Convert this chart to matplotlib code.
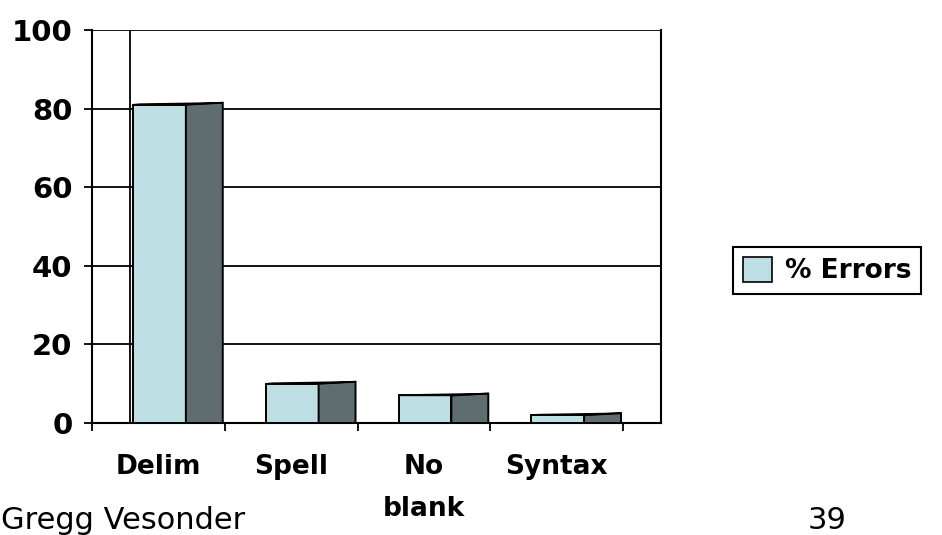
import matplotlib
matplotlib.use("Agg")
import matplotlib.pyplot as plt
from matplotlib.patches import Polygon, Patch

categories = ["Delim", "Spell", "No\nblank", "Syntax"]
errors = [81, 10, 7, 2]
yticks = [0, 20, 40, 60, 80, 100]
legend_label = "% Errors"
footer_left = "Gregg Vesonder"
footer_right = "39"

front_color = "#bddee3"
side_color = "#5f6d71"

W, H = 942, 535
fig = plt.figure(figsize=(W / 100, H / 100), dpi=100)
# plot area in pixels: left 92, right 661, top 30, bottom 423
ax = fig.add_axes([92 / W, 1 - 423 / H, (661 - 92) / W, (423 - 30) / H])

depth = 0.286          # horizontal offset of the back wall, in category units
ax.set_xlim(0, 4 + depth)
ax.set_ylim(0, 100)

# gridlines + back wall edge
for y in yticks[1:]:
    ax.axhline(y, color="black", lw=1.3, zorder=1)
ax.plot([depth, depth], [0, 100], color="black", lw=1.3, zorder=1)

rise = 0.5
for i, v in enumerate(errors):
    x0, x1, x2 = i + 0.31, i + 0.707, i + 0.985
    ax.bar(x0, v, width=x1 - x0, align="edge", color=front_color,
           edgecolor="black", lw=1.4, zorder=3)
    side = Polygon([(x1, 0), (x2, 0), (x2, v + rise), (x1, v)], closed=True,
                   facecolor=side_color, edgecolor="black", lw=1.4, zorder=3)
    ax.add_patch(side)
    top = Polygon([(x0, v), (x1, v), (x2, v + rise), (x0 + 0.05, v + rise * 0.3)],
                  closed=True, facecolor="black", edgecolor="black", lw=1.0, zorder=4)
    ax.add_patch(top)

for s in ["left", "bottom", "right"]:
    ax.spines[s].set_linewidth(1.5)
ax.spines["top"].set_visible(False)

ax.set_yticks(yticks)
ax.set_yticklabels([str(t) for t in yticks], fontsize=21, fontweight="bold")
ax.tick_params(axis="y", length=6, width=1.3, pad=8)

ax.set_xticks(range(5))
ax.set_xticklabels([])
ax.tick_params(axis="x", which="major", length=6, width=1.3, direction="out")
ax.set_xticks([i + 0.5 for i in range(len(categories))], minor=True)
ax.set_xticklabels(categories, minor=True, fontsize=19, fontweight="bold",
                   linespacing=1.8, va="top")
ax.tick_params(axis="x", which="minor", length=0, pad=22)

handle = Patch(facecolor=front_color, edgecolor="black", lw=1.2)
leg = fig.legend([handle], [legend_label], loc="center",
                 bbox_to_anchor=(827 / W, 1 - 270.5 / H),
                 prop={"size": 19, "weight": "bold"}, fancybox=False,
                 edgecolor="black", framealpha=1, handlelength=1.1,
                 handleheight=1.1, handletextpad=0.5, borderpad=0.35)
leg.get_frame().set_linewidth(1.5)

# slide footer, sitting on the lower edge
fig.text(1 / W, 1 - 529 / H, footer_left, fontsize=22, va="baseline", ha="left")
fig.text(827 / W, 1 - 529 / H, footer_right, fontsize=22, va="baseline", ha="center")

fig.savefig("out.png", dpi=100)
